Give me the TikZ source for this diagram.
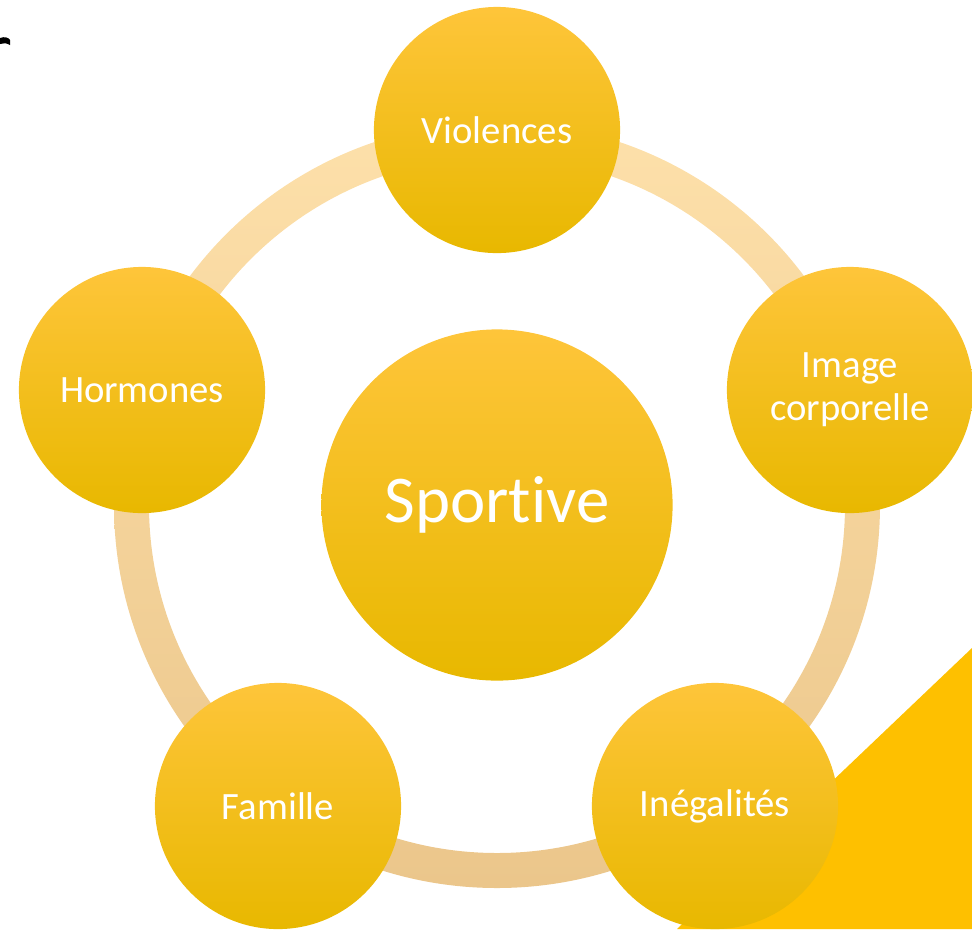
\documentclass[tikz,border=0pt]{standalone}
\usepackage{fontspec}
\setmainfont{Carlito}[Ligatures=NoCommon]
\usetikzlibrary{positioning}
\definecolor{sunhi}{HTML}{FEC53A}
\definecolor{sunmid}{HTML}{FFC700}
\definecolor{sunlo}{HTML}{E8B800}
\definecolor{ringhi}{HTML}{FDE0AA}
\definecolor{ringmid}{HTML}{FCDDA5}
\definecolor{ringlo}{HTML}{EBC68B}
\definecolor{wedge}{HTML}{FEC000}

\tikzset{
  bubble/.style={circle, minimum size=2.46cm, inner sep=0pt, top color=sunhi, middle color=sunmid, bottom color=sunlo, text=white, align=center, font=\fontsize{11}{12.3}\selectfont},
  hub/.style={bubble, minimum size=3.51cm, font=\fontsize{19}{22}\selectfont}
}

\begin{document}
\begin{tikzpicture}[x=0.01cm, y=-0.01cm]
    \useasboundingbox (0,0) rectangle (972,929);
    \fill[wedge] (972,648) -- (677,929) -- (972,929) -- cycle;
    \fill (0,38) .. controls (5,36) and (9,38) .. (10,40) -- (10,45) .. controls (6,43) .. (0,44) -- cycle;
    \shade[even odd rule, top color=ringhi, middle color=ringmid, bottom color=ringlo] (497,505) circle (383) (497,505) circle (348);
    \node[hub] (sport) at (497,505) {Sportive};
    \node[bubble] (viol) at (497,130) {Violences};
    \node[bubble] (image) at (850,390) {Image\\corporelle};
    \node[bubble] (ineg) at (715,806) {Inégalités};
    \node[bubble] (fam) at (278,806) {Famille};
    \node[bubble] (horm) at (142,390) {Hormones};
\end{tikzpicture}
\end{document}
